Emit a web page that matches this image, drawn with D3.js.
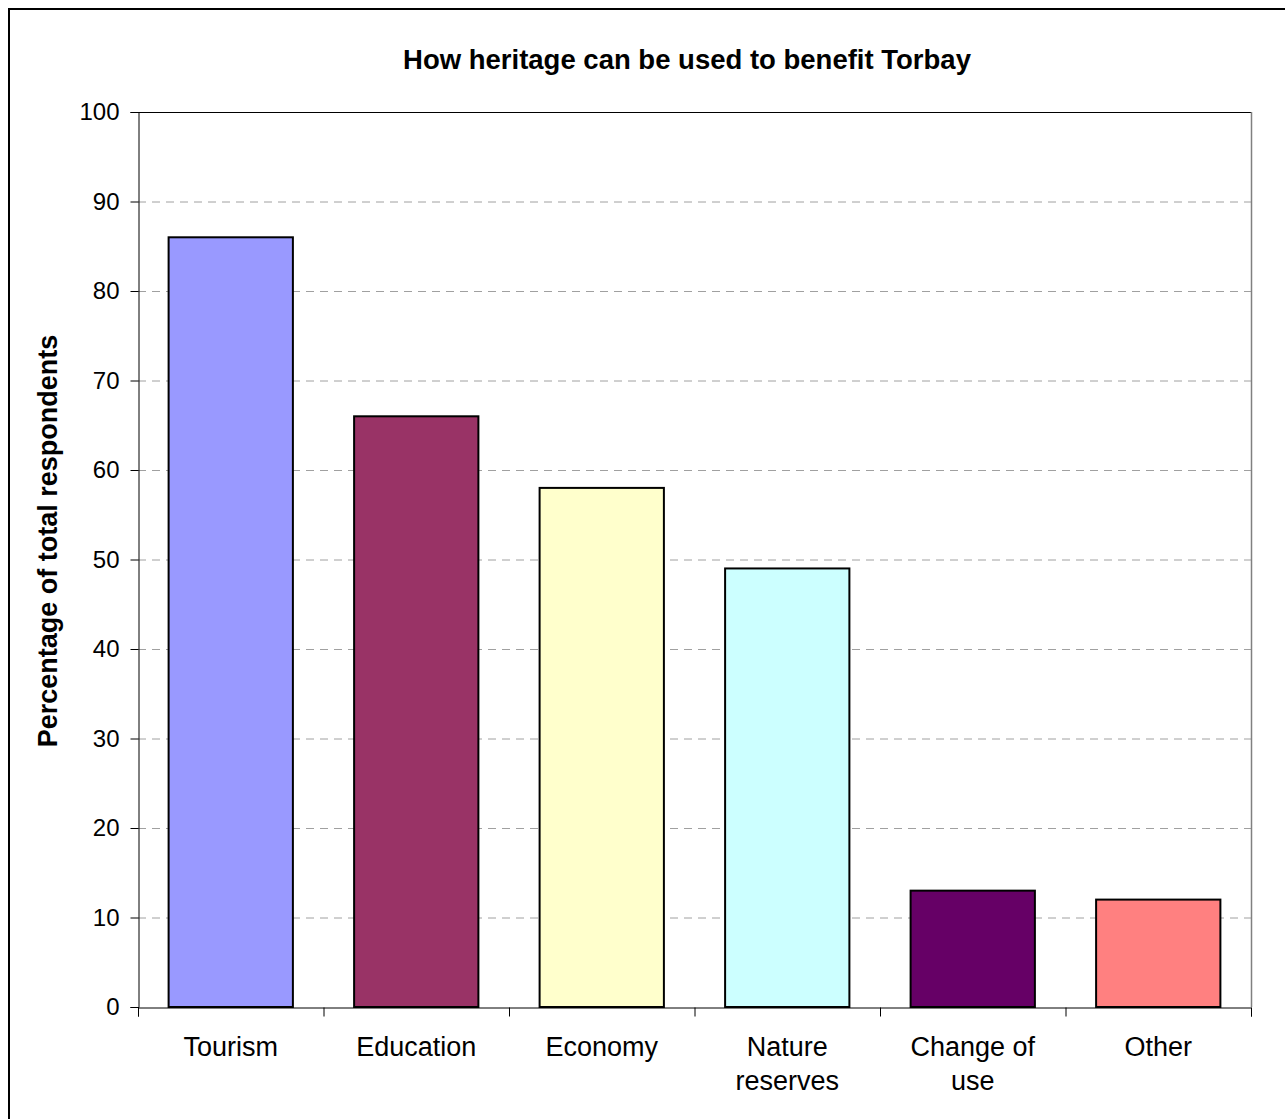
<!DOCTYPE html>
<html><head><meta charset="utf-8">
<script src="https://cdn.jsdelivr.net/npm/d3@7"></script>
<style>body{margin:0;background:#fff;} svg{display:block;font-family:"Liberation Sans",Arial,sans-serif;}</style>
</head><body><svg id="c" width="1285" height="1119"></svg>
<script>
const categories = [["Tourism"],["Education"],["Economy"],["Nature","reserves"],["Change of","use"],["Other"]];
const values = [86, 66, 58, 49, 13, 12];
const colors = ["#9999FF","#993366","#FFFFCC","#CCFFFF","#660066","#FF8080"];
const yTicks = [0,10,20,30,40,50,60,70,80,90,100];
const title = "How heritage can be used to benefit Torbay";
const yLabel = "Percentage of total respondents";

const svg = d3.select("#c");
// outer border
svg.append("rect").attr("x",9).attr("y",9).attr("width",1285).attr("height",1119)
  .attr("fill","#fff").attr("stroke","#000").attr("stroke-width",2);

const L=138,R=1251,T=112,B=1007;
const x = d3.scaleBand().domain(d3.range(categories.length)).range([L,R]).paddingInner(0.33).paddingOuter(0.165);
const xb = d3.scaleLinear().domain([0,categories.length]).range([L,R]);
const y = d3.scaleLinear().domain([0,100]).range([B,T]);

// gridlines
svg.append("g").selectAll("line").data(yTicks.filter(d=>d>0&&d<100)).join("line")
  .attr("x1",L).attr("x2",R).attr("y1",d=>y(d)+0.5).attr("y2",d=>y(d)+0.5)
  .attr("stroke","#a0a0a0").attr("stroke-dasharray","8,6").attr("stroke-width",1);
// plot border top/right
svg.append("line").attr("x1",L).attr("x2",R).attr("y1",T+0.5).attr("y2",T+0.5).attr("stroke","#000");
svg.append("line").attr("x1",R+0.5).attr("x2",R+0.5).attr("y1",T).attr("y2",B).attr("stroke","#808080").attr("stroke-width",1.5);

// bars
svg.append("g").selectAll("rect").data(values).join("rect")
  .attr("x",(d,i)=>x(i)).attr("width",x.bandwidth())
  .attr("y",d=>y(d)).attr("height",d=>B-y(d))
  .attr("fill",(d,i)=>colors[i]).attr("stroke","#000").attr("stroke-width",2);

// y axis
const ya = svg.append("g").attr("transform",`translate(${L+0.5},0)`)
  .call(d3.axisLeft(y).tickValues(yTicks).tickSize(8).tickPadding(11).tickFormat(d3.format("d")));
ya.select(".domain").attr("stroke","#000");
ya.selectAll(".tick line").attr("stroke","#000");
ya.selectAll("text").attr("font-size",24).attr("fill","#000").attr("font-family","Liberation Sans, Arial, sans-serif");

// x axis
const xa = svg.append("g").attr("transform",`translate(0,${B+0.5})`)
  .call(d3.axisBottom(xb).tickValues(d3.range(categories.length+1)).tickSize(9).tickFormat(""));
xa.select(".domain").attr("stroke","#000");
xa.selectAll(".tick line").attr("stroke","#000");

// category labels
const cl = svg.append("g").selectAll("text").data(categories).join("text")
  .attr("x",(d,i)=>x(i)+x.bandwidth()/2).attr("y",1056)
  .attr("text-anchor","middle").attr("font-size",27).attr("fill","#000");
cl.selectAll("tspan").data(d=>d).join("tspan")
  .attr("x",function(){return this.parentNode.getAttribute("x");})
  .attr("dy",(d,i)=>i===0?0:34).text(d=>d);

// title
svg.append("text").attr("x",687).attr("y",69).attr("text-anchor","middle")
  .attr("font-size",27.5).attr("font-weight","bold").text(title);
// y label
svg.append("text").attr("transform","translate(57,541) rotate(-90)").attr("text-anchor","middle")
  .attr("font-size",27).attr("font-weight","bold").text(yLabel);
</script></body></html>
